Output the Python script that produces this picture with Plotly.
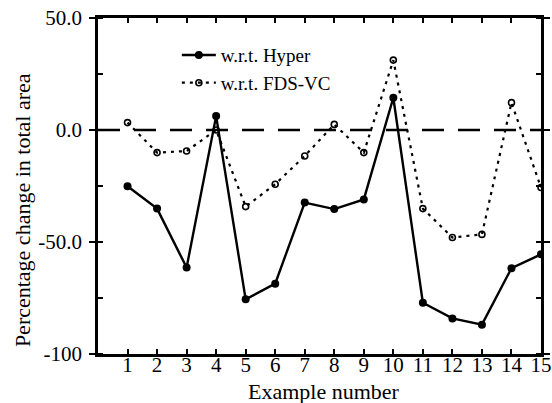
import plotly.graph_objects as go

examples = list(range(1, 16))
hyper = [-25.1, -35.1, -61.4, 6.2, -75.6, -68.6, -32.4, -35.3, -31.0, 14.4, -77.1, -84.1, -86.9, -61.7, -55.5]
fds_vc = [3.3, -10.1, -9.4, 0.0, -34.2, -24.2, -11.6, 2.5, -10.1, 31.2, -35.1, -48.0, -46.6, 12.2, -25.7]
y_tick_vals = [-100, -50, 0, 50]
y_tick_text = ["-100", "-50.0", "0.0", "50.0"]
reference_level = 0

FONT = "Liberation Serif"

fig = go.Figure()
fig.add_trace(go.Scatter(
    x=examples, y=hyper, mode="lines+markers", name="w.r.t. Hyper",
    line=dict(color="black", width=2.4),
    marker=dict(symbol="circle", size=8, color="black"),
))
fig.add_trace(go.Scatter(
    x=examples, y=fds_vc, mode="lines+markers", name="w.r.t. FDS-VC",
    line=dict(color="black", width=2.2, dash="3px,5px"),
    marker=dict(symbol="circle-open", size=6, color="black", line=dict(width=1.6, color="black")),
))
fig.add_shape(type="line", xref="x", yref="y", x0=0, x1=15, y0=reference_level, y1=reference_level,
              line=dict(color="black", width=2.4, dash="22px,14px"), layer="below")

fig.add_annotation(text="Percentage change in total area", xref="paper", yref="paper",
                   x=-0.169, y=0.4286, xanchor="center", yanchor="middle",
                   textangle=-90, showarrow=False,
                   font=dict(family=FONT, size=22, color="black"))
fig.add_annotation(text="Example number", xref="paper", yref="paper",
                   x=0.51, y=-0.113, xanchor="center", yanchor="middle", showarrow=False,
                   font=dict(family=FONT, size=22, color="black"))

fig.update_layout(
    width=552, height=403,
    margin=dict(l=98, r=11, t=18, b=49, autoexpand=False),
    paper_bgcolor="white", plot_bgcolor="white",
    font=dict(family=FONT, size=19, color="black"),
    showlegend=True,
    legend=dict(x=0.178, y=0.946, xanchor="left", yanchor="top",
                bgcolor="rgba(0,0,0,0)", font=dict(family=FONT, size=19),
                itemwidth=34, tracegroupgap=0),
    xaxis=dict(
        range=[0, 15], tickvals=examples, ticks="inside", ticklen=5, tickwidth=1.5,
        tickcolor="black", showline=True, linecolor="black", linewidth=2.5,
        mirror="allticks", showgrid=False, zeroline=False, automargin=False,
        tickfont=dict(family=FONT, size=21), ticklabelstandoff=-10,
    ),
    yaxis=dict(
        range=[-100, 50], tickvals=y_tick_vals, ticktext=y_tick_text,
        ticks="outside", ticklen=6, tickwidth=1.5, tickcolor="black",
        showline=True, linecolor="black", linewidth=2.5, mirror="allticks",
        showgrid=False, zeroline=False, automargin=False,
        minor=dict(dtick=25, ticks="inside", ticklen=5, tickwidth=1.5, tickcolor="black", showgrid=False),
        tickfont=dict(family=FONT, size=21), ticklabelstandoff=3,
    ),
)

fig.write_html("out.html", config={"displayModeBar": False},
               post_script="document.body.style.margin='0';document.body.style.overflow='hidden';")
